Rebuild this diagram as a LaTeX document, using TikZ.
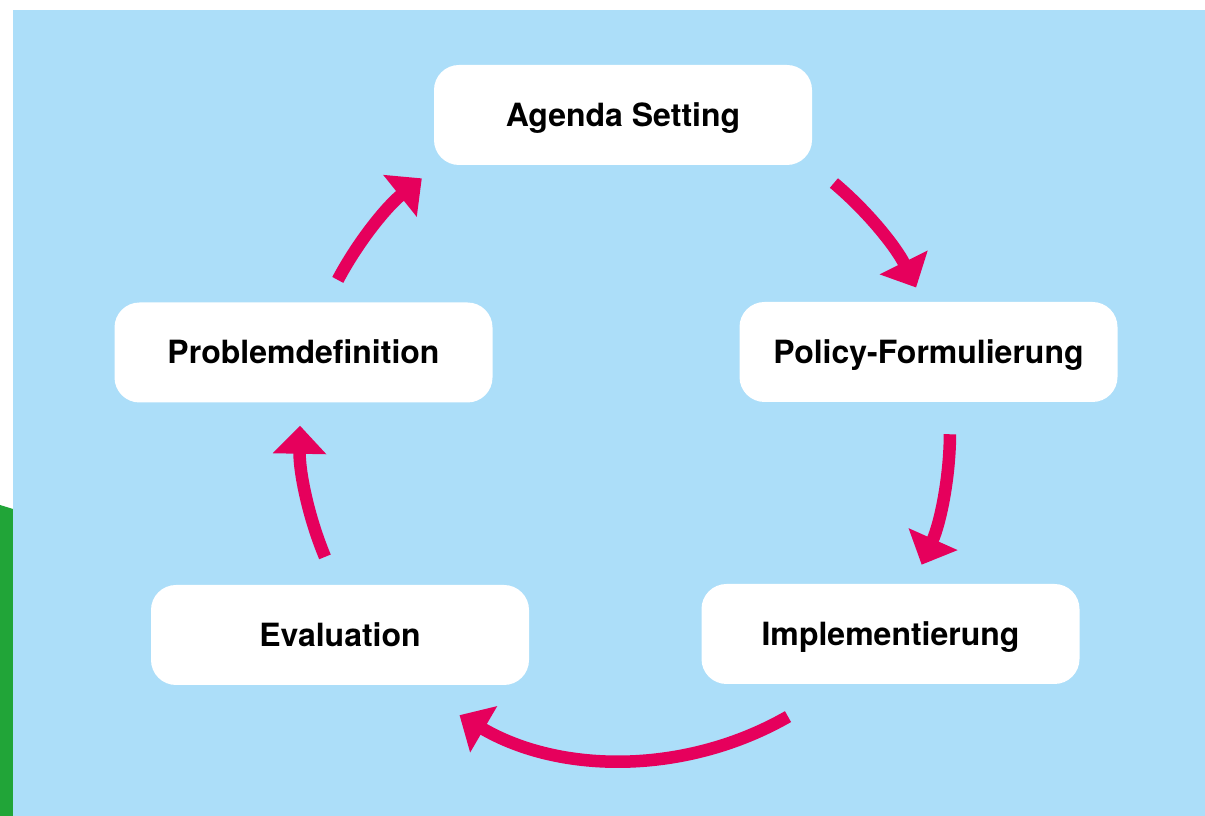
\documentclass[tikz,border=0pt]{standalone}
\usepackage{fontspec}
\setmainfont{TeX Gyre Heros}
\usetikzlibrary{arrows.meta}
\definecolor{skyback}{HTML}{ACDEF9}
\definecolor{leafgreen}{HTML}{21A538}
\definecolor{cyclepink}{HTML}{E6005C}
\begin{document}
\begin{tikzpicture}[x=1pt,y=1pt,
  stage/.style={fill=white, rounded corners=25pt, minimum width=378pt,
    minimum height=100pt, inner sep=0pt, text height=23pt, text depth=0pt,
    font=\fontsize{32}{36}\selectfont\bfseries, text=black},
  cyclearrow/.style={draw=cyclepink, line width=12.5pt,
    -{Triangle[width=52pt,length=28pt]}}]
\useasboundingbox (0,0) rectangle (1205,816);
% page ground, green strip and sky panel
\fill[white] (0,0) rectangle (1205,816);
\fill[leafgreen] (0,0) -- (13,0) -- (13,307) -- (0,311) -- cycle;
\fill[skyback] (13,0) rectangle (1205,806);

% the five stages of the cycle
\node[stage] (agenda)  at (623,701)   {Agenda Setting};
\node[stage] (policy)  at (928.5,464) {Policy-Formulierung};
\node[stage] (impl)    at (890.5,182) {Implementierung};
\node[stage] (eval)    at (340,181)   {Evaluation};
\node[stage] (problem) at (303.5,463.5) {Problemdefinition};

% arrows run clockwise on a common circle
\coordinate (hub) at (625,384);
\coordinate (a1) at ([shift={(50:325)}]hub);
\coordinate (a2) at ([shift={(-0.4:325)}]hub);
\coordinate (a3) at ([shift={(-60.2:328)}]hub);
\coordinate (a4) at ([shift={(202.6:325)}]hub);
\coordinate (a5) at ([shift={(152.1:325)}]hub);

\draw[cyclearrow] (a1) arc[start angle=50, end angle=26.4, radius=325];
\draw[cyclearrow] (a2) arc[start angle=-0.4, end angle=-24.1, radius=325];
\draw[cyclearrow] (a3) arc[start angle=-60.2, end angle=-120.3, radius=328];
\draw[cyclearrow] (a4) arc[start angle=202.6, end angle=178.9, radius=325];
\draw[cyclearrow] (a5) arc[start angle=152.1, end angle=128.7, radius=325];
\end{tikzpicture}
\end{document}
